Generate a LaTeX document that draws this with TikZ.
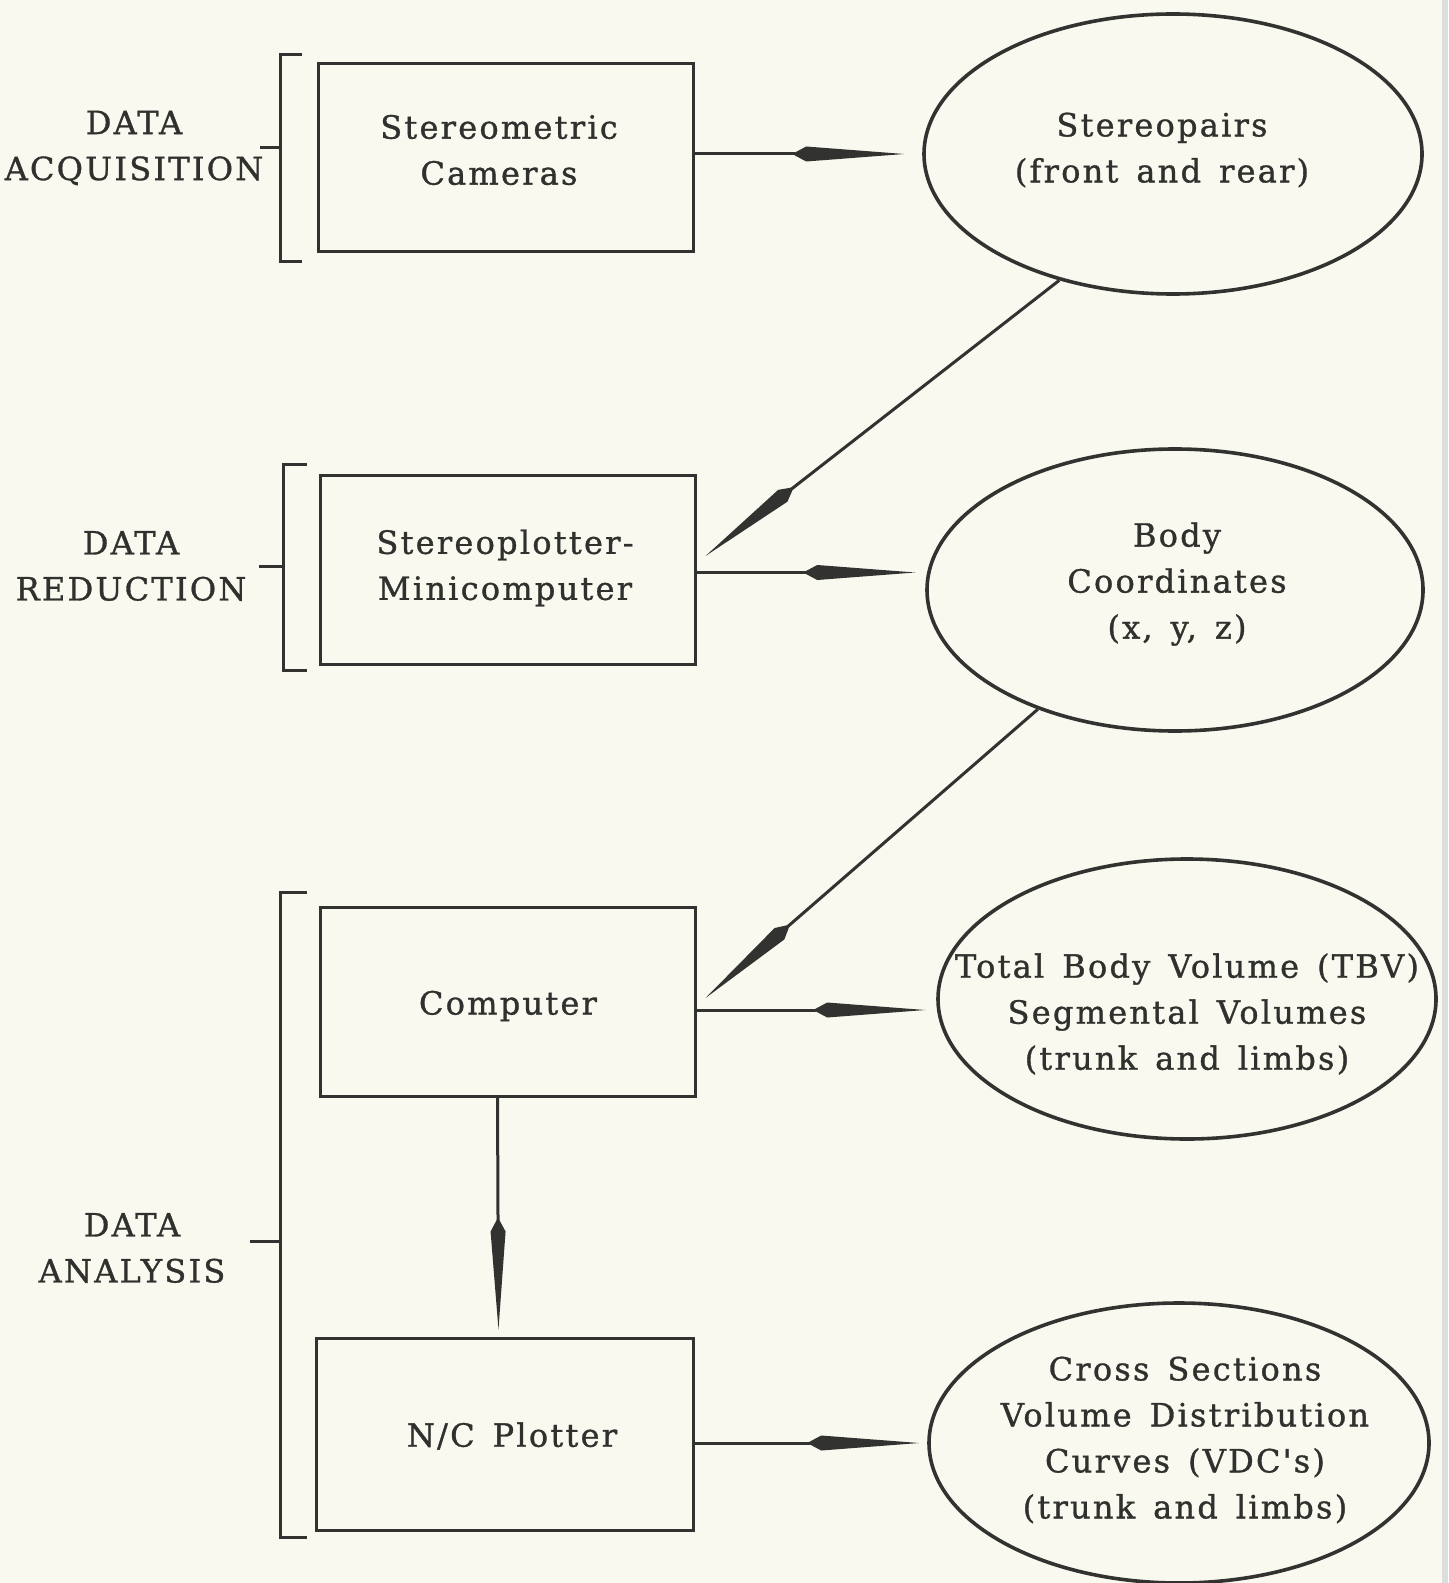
\documentclass[tikz,border=0pt]{standalone}
\usepackage{fontspec}
\setmainfont{DejaVu Serif}[Ligatures=TeXOff,LetterSpace=7,WordSpace=1.45,FakeBold=1]
\usetikzlibrary{arrows.meta,shapes.geometric}
\definecolor{bg}{RGB}{249,249,240}
\definecolor{ink}{RGB}{50,50,48}
\definecolor{tink}{RGB}{48,48,46}
\begin{document}
\begin{tikzpicture}[x=0.5pt,y=-0.5pt,
  box/.style={draw=ink, line width=1.5pt, rectangle, inner sep=0pt},
  oval/.style={draw=ink, line width=1.8pt, ellipse, inner sep=0pt},
  txt/.style={text=tink, font=\fontsize{16}{23}\selectfont, align=center, inner sep=0pt},
  spear/.style={draw=ink, line width=1.5pt, -{Kite[length=56pt,width=7.5pt,inset=7pt,line width=0pt]}},
  brk/.style={draw=ink, line width=1.5pt}]
\useasboundingbox (0,0) rectangle (1448,1583);
\fill[bg] (0,0) rectangle (1448,1583);
\fill[black!13] (1442,0) rectangle (1448,1583);

% boxes
\node[box, minimum width=187.5pt, minimum height=94pt] (b1) at (505.5,158) {};
\node[box, minimum width=187.5pt, minimum height=94.5pt] (b2) at (507.5,569.5) {};
\node[box, minimum width=187.5pt, minimum height=94.5pt] (b3) at (507.5,1001.5) {};
\node[box, minimum width=188.5pt, minimum height=96pt] (b4) at (504.5,1434) {};

% ellipses
\node[oval, minimum width=249pt, minimum height=140pt] (e1) at (1173,154) {};
\node[oval, minimum width=248pt, minimum height=141pt] (e2) at (1175,590) {};
\node[oval, minimum width=249pt, minimum height=140pt] (e3) at (1187,999) {};
\node[oval, minimum width=250pt, minimum height=140pt] (e4) at (1179,1443) {};

% texts
\node[txt] (t1) at (499,150) {Stereometric\\Cameras};
\node[txt] (t2) at (505,568) {Stereoplotter-\\Minicomputer};
\node[txt] (t3) at (508,1006) {Computer};
\node[txt] (t4) at (512,1436) {N/C Plotter};
\node[txt] (u1) at (1162,150) {Stereopairs\\(front and rear)};
\node[txt] (u2) at (1177,584) {Body\\Coordinates\\(x, y, z)};
\node[txt] (u3) at (1187,1014) {Total Body Volume (TBV)\\Segmental Volumes\\(trunk and limbs)};
\node[txt] (u4) at (1185,1440) {Cross Sections\\Volume Distribution\\Curves (VDC's)\\(trunk and limbs)};
\node[txt] (l1) at (134,148) {DATA\\ACQUISITION};
\node[txt] (l2) at (131,566) {DATA\\REDUCTION};
\node[txt] (l3) at (132,1248) {DATA\\ANALYSIS};

% brackets
\draw[brk] (302,55) -- (280,55) -- (280,262) -- (302,262);
\draw[brk] (280,148) -- (260,148);
\draw[brk] (307,464) -- (283,464) -- (283,670) -- (307,670);
\draw[brk] (283,566) -- (259,566);
\draw[brk] (307,892) -- (280,892) -- (280,1537) -- (307,1537);
\draw[brk] (280,1241) -- (250,1241);

% connectors
\coordinate (a1) at (b1.east |- e1.west);
\draw[spear, shorten >=9pt] (a1) -- (e1.west);
\coordinate (a3) at (e2.west |- b2.east);
\draw[spear, shorten >=5pt] ([yshift=-1.5pt]b2.east) -- ([yshift=-1.5pt]a3);
\coordinate (a5) at (e3.west |- b3.east);
\draw[spear, shorten >=5.5pt] ([yshift=-4.25pt]b3.east) -- ([yshift=-4.25pt]a5);
\coordinate (a7) at (b4.east |- e4.west);
\draw[spear, shorten >=4pt] (a7) -- (e4.west);
\draw[spear] (e1.228) -- ([xshift=4.5pt,yshift=6.75pt]b2.east);
\draw[spear] (e2.221) -- ([xshift=4.5pt,yshift=1.75pt]b3.east);
\draw[spear, shorten >=3.5pt] ([xshift=-5pt]b3.south) -- ([xshift=-3pt]b4.north);
\end{tikzpicture}
\end{document}
